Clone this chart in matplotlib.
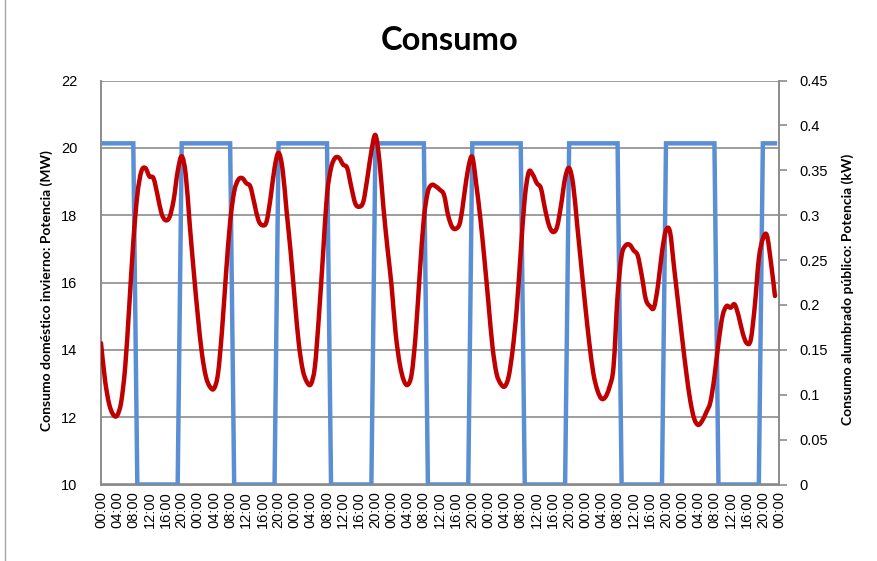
import matplotlib
matplotlib.use("Agg")
import matplotlib.pyplot as plt
from matplotlib.path import Path
from matplotlib.patches import PathPatch
from matplotlib.lines import Line2D

# Hourly winter household demand (MW), one list per day
dom_day0 = [14.2, 13.1, 12.4, 12.08, 12.05, 12.45, 13.5, 15.3, 17.2, 18.6, 19.3, 19.4,
            19.15, 19.1, 18.6, 18.05, 17.85, 17.95, 18.45, 19.3, 19.75, 19.2, 17.7, 16.3]
dom_day1 = [15.0, 13.9, 13.2, 12.9, 12.85, 13.3, 14.6, 16.3, 17.8, 18.7, 19.05, 19.1,
            18.95, 18.85, 18.35, 17.85, 17.7, 17.8, 18.5, 19.4, 19.85, 19.35, 18.1, 16.9]
dom_day2 = [15.5, 14.2, 13.4, 13.05, 12.98, 13.5, 15.0, 16.8, 18.6, 19.4, 19.7, 19.7,
            19.5, 19.4, 18.85, 18.35, 18.25, 18.4, 19.1, 19.9, 20.38, 19.6, 18.2, 17.0]
dom_day3 = [15.9, 14.5, 13.6, 13.1, 12.96, 13.3, 14.5, 16.3, 17.9, 18.7, 18.9, 18.85,
            18.75, 18.6, 18.0, 17.65, 17.6, 17.8, 18.6, 19.4, 19.73, 18.9, 17.9, 16.7]
dom_day4 = [15.4, 14.1, 13.3, 13.0, 12.91, 13.2, 14.0, 15.2, 16.9, 18.5, 19.28, 19.2,
            18.95, 18.8, 18.2, 17.7, 17.5, 17.65, 18.3, 19.1, 19.4, 18.9, 17.7, 16.5]
dom_day5 = [15.3, 14.2, 13.3, 12.8, 12.55, 12.6, 12.9, 13.5, 15.6, 16.8, 17.1, 17.12,
            16.95, 16.8, 16.2, 15.5, 15.3, 15.25, 15.9, 16.9, 17.55, 17.5, 16.45, 15.4]
dom_day6 = [14.35, 13.35, 12.5, 11.95, 11.77, 11.9, 12.15, 12.45, 13.2, 14.2, 15.0, 15.3,
            15.25, 15.35, 15.0, 14.5, 14.2, 14.3, 15.3, 16.7, 17.3, 17.4, 16.6, 15.6]

# Hourly street-lighting load (kW), one list per day
lum_day0 = [0.38] * 9 + [0.0] * 11 + [0.38] * 4
lum_day1 = [0.38] * 9 + [0.0] * 11 + [0.38] * 4
lum_day2 = [0.38] * 9 + [0.0] * 11 + [0.38] * 4
lum_day3 = [0.38] * 9 + [0.0] * 11 + [0.38] * 4
lum_day4 = [0.38] * 9 + [0.0] * 11 + [0.38] * 4
lum_day5 = [0.38] * 9 + [0.0] * 11 + [0.38] * 4
lum_day6 = [0.38] * 9 + [0.0] * 11 + [0.38] * 4

day_labels = ["00:00", "04:00", "08:00", "12:00", "16:00", "20:00"]
tick_labels = day_labels * 7 + ["00:00"]

domestic = (dom_day0 + dom_day1 + dom_day2 + dom_day3 +
            dom_day4 + dom_day5 + dom_day6)
lighting = (lum_day0 + lum_day1 + lum_day2 + lum_day3 +
            lum_day4 + lum_day5 + lum_day6)
hours = list(range(len(domestic)))
tick_pos = list(range(0, 4 * len(tick_labels), 4))

RED = "#C00000"
BLUE = "#5A8FD6"
GRID = "#8C8C8C"


def smooth_path(xs, ys):
    """Cubic Bezier through every point (Catmull-Rom style smoothing)."""
    verts = [(xs[0], ys[0])]
    codes = [Path.MOVETO]
    n = len(xs)
    for i in range(n - 1):
        x0, y0 = (xs[i - 1], ys[i - 1]) if i > 0 else (xs[i], ys[i])
        x1, y1 = xs[i], ys[i]
        x2, y2 = xs[i + 1], ys[i + 1]
        x3, y3 = (xs[i + 2], ys[i + 2]) if i + 2 < n else (x2, y2)
        c1 = (x1 + (x2 - x0) / 6.0, y1 + (y2 - y0) / 6.0)
        c2 = (x2 - (x3 - x1) / 6.0, y2 - (y3 - y1) / 6.0)
        verts += [c1, c2, (x2, y2)]
        codes += [Path.CURVE4] * 3
    return Path(verts, codes)


fig = plt.figure(figsize=(8.78, 5.61), dpi=100)
ax = fig.add_axes([101 / 878, 1 - 484.5 / 561, 678 / 878, 404 / 561])
ax2 = ax.twinx()

# primary axis: household demand
ax.set_xlim(0, 168)
ax.set_ylim(10, 22)
ax.set_yticks(range(10, 23, 2))
ax.yaxis.grid(True, color=GRID, linewidth=1.2)
ax.set_axisbelow(True)
ax.set_xticks(tick_pos)
ax.set_xticklabels(tick_labels, rotation=90, fontsize=10.5, family="Liberation Sans")
ax.tick_params(axis="x", length=0, pad=5)
ax.tick_params(axis="y", length=0, pad=17, labelsize=10.5)
for lbl in ax.get_yticklabels():
    lbl.set_family("Liberation Sans")
for side in ("top", "right", "left", "bottom"):
    ax.spines[side].set_color(GRID)
    ax.spines[side].set_linewidth(1.2)
ax.spines["top"].set_visible(False)

# secondary axis: street lighting
ax2.set_ylim(0, 0.45)
ax2.set_yticks([0, 0.05, 0.1, 0.15, 0.2, 0.25, 0.3, 0.35, 0.4, 0.45])
ax2.set_yticklabels(["0", "0.05", "0.1", "0.15", "0.2", "0.25", "0.3", "0.35", "0.4", "0.45"],
                    family="Liberation Sans", fontsize=10.5)
ax2.tick_params(axis="y", length=6, width=1.2, color=GRID, pad=9)
for side in ("top", "right", "left", "bottom"):
    ax2.spines[side].set_color(GRID)
    ax2.spines[side].set_linewidth(1.2)
ax2.spines["top"].set_visible(False)

ax2.add_line(Line2D(hours, lighting, color=BLUE, linewidth=3.2,
                    solid_joinstyle="miter", zorder=2))
ax2.add_patch(PathPatch(smooth_path(hours, domestic), facecolor="none",
                        edgecolor=RED, linewidth=3.2, transform=ax.transData,
                        capstyle="round", joinstyle="round", zorder=3))

fig.text(450 / 878, 1 - 40 / 561, "Consumo", ha="center", va="center",
         fontsize=23.5, fontweight="bold", family="Lato")
fig.text(47 / 878, 1 - 291 / 561, "Consumo doméstico invierno: Potencia (MW)",
         rotation=90, ha="center", va="center", fontsize=10, fontweight="bold",
         family="Lato")
fig.text(848 / 878, 1 - 289 / 561, "Consumo alumbrado público: Potencia (kW)",
         rotation=90, ha="center", va="center", fontsize=10, fontweight="bold",
         family="Lato")

# chart area frame edge
fig.add_artist(Line2D([5 / 878, 5 / 878], [0, 1], color="#A6A6A6", linewidth=1.0))

fig.savefig("out.png", dpi=100)
